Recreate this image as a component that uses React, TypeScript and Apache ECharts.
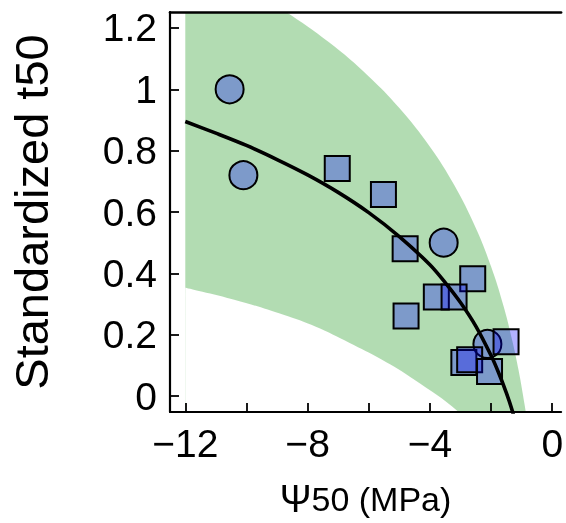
import React, { useEffect, useRef } from "react";
import * as echarts from "echarts";

// Markers
const circleX = [-10.55, -10.1, -3.55, -2.12];
const circleY = [1.0, 0.72, 0.5, 0.17];
const squareX = [-7.03, -5.52, -4.81, -2.6, -3.79, -3.21, -4.78, -1.51, -2.89, -2.7, -2.05];
const squareY = [0.742, 0.657, 0.48, 0.382, 0.323, 0.323, 0.261, 0.177, 0.109, 0.118, 0.08];

// Fitted curve
const fitX = [-12, -11, -10, -9, -8, -7, -6, -5, -4, -3.5, -3, -2.5, -2, -1.75, -1.5, -1.3, -1.2];
const fitY = [0.895, 0.857, 0.817, 0.771, 0.721, 0.664, 0.598, 0.52, 0.428, 0.37, 0.305, 0.228, 0.132, 0.075, 0.01, -0.05, -0.09];

// Green band boundaries
const upperX = [-12, -10, -8.9, -7.3, -6, -5, -4, -3.2, -2.5, -2, -1.6, -1.3, -1.1, -0.9, -0.75];
const upperY = [1.434, 1.331, 1.265, 1.153, 1.042, 0.939, 0.813, 0.687, 0.548, 0.422, 0.296, 0.178, 0.084, -0.03, -0.133];
const lowerX = [-12, -10.4, -8.79, -7.73, -6.64, -5.58, -4.52, -3.08, -2.5];
const lowerY = [0.353, 0.314, 0.265, 0.226, 0.174, 0.119, 0.054, -0.05, -0.12];

const xTicks = [-12, -10, -8, -6, -4, -2, 0];
const xLabels = [-12, -8, -4, 0];
const yTicks = [0, 0.2, 0.4, 0.6, 0.8, 1, 1.2];

const X_MIN = -12.5;
const X_MAX = 0.29;
const Y_MIN = -0.052;
const Y_MAX = 1.252;

const FONT = "Liberation Sans, Arial, Helvetica, sans-serif";

export default function App() {
  const ref = useRef<HTMLDivElement>(null);
  useEffect(() => {
    if (!ref.current) return;
    const chart = echarts.init(ref.current, null, { renderer: "svg" });
    const tickFont = { fontFamily: FONT, fontSize: 39, color: "#000" };
    chart.setOption({
      animation: false,
      grid: { left: 167, right: 0, top: 12, bottom: 108 },
      xAxis: [
        {
          type: "value",
          min: X_MIN,
          max: X_MAX,
          position: "bottom",
          z: 6,
          axisLine: { show: true, onZero: false, lineStyle: { color: "#000", width: 2.2 } },
          axisTick: { show: true, inside: true, length: 9, customValues: xTicks, lineStyle: { color: "#000", width: 1.8 } },
          axisLabel: {
            show: true,
            customValues: xLabels,
            margin: 12,
            ...tickFont,
            formatter: (v: number) => (v < 0 ? "\u2212" + Math.abs(v) : String(v)),
          },
          splitLine: { show: false },
          name: "{a|\u03A8}{b|50 (MPa)}",
          nameLocation: "middle",
          nameGap: 68,
          nameTextStyle: {
            rich: {
              a: { fontFamily: FONT, fontSize: 38, color: "#000" },
              b: { fontFamily: FONT, fontSize: 34, color: "#000" },
            },
          },
        },
        {
          type: "value",
          min: X_MIN,
          max: X_MAX,
          position: "top",
          z: 6,
          axisLine: { show: true, onZero: false, lineStyle: { color: "#000", width: 2.6 } },
          axisTick: { show: false },
          axisLabel: { show: false },
          splitLine: { show: false },
        },
      ],
      yAxis: {
        type: "value",
        min: Y_MIN,
        max: Y_MAX,
        z: 6,
        axisLine: { show: true, onZero: false, lineStyle: { color: "#000", width: 2.2 } },
        axisTick: { show: true, inside: true, length: 9, customValues: yTicks, lineStyle: { color: "#000", width: 1.8 } },
        axisLabel: {
          show: true,
          customValues: yTicks,
          margin: 13,
          ...tickFont,
          formatter: (v: number) => String(Number(v.toFixed(1))),
        },
        splitLine: { show: false },
        name: "Standardized t50",
        nameLocation: "middle",
        nameGap: 115,
        nameTextStyle: { fontFamily: FONT, fontSize: 47, color: "#000" },
      },
      series: [
        {
          type: "line",
          z: 1,
          silent: true,
          clip: true,
          showSymbol: false,
          smooth: 0.4,
          lineStyle: { width: 0, opacity: 0 },
          areaStyle: { color: "rgba(0,140,0,0.3)", origin: "start", opacity: 1 },
          data: upperX.map((x, i) => [x, upperY[i]]),
        },
        {
          type: "line",
          z: 1,
          silent: true,
          clip: true,
          showSymbol: false,
          smooth: 0.4,
          lineStyle: { width: 0, opacity: 0 },
          areaStyle: { color: "#ffffff", origin: "start", opacity: 1 },
          data: lowerX.map((x, i) => [x, lowerY[i]]),
        },
        {
          type: "scatter",
          z: 3,
          symbol: "circle",
          symbolSize: 28,
          itemStyle: { color: "rgba(0,0,255,0.3)", borderColor: "#000", borderWidth: 2, opacity: 1 },
          data: circleX.map((x, i) => [x, circleY[i]]),
        },
        {
          type: "scatter",
          z: 4,
          symbol: "rect",
          symbolSize: 25,
          itemStyle: { color: "rgba(0,0,255,0.3)", borderColor: "#000", borderWidth: 2, opacity: 1 },
          data: squareX.map((x, i) => [x, squareY[i]]),
        },
        {
          type: "line",
          z: 5,
          showSymbol: false,
          smooth: 0.3,
          clip: true,
          lineStyle: { color: "#000", width: 3.6 },
          data: fitX.map((x, i) => [x, fitY[i]]),
        },
      ],
    });
    return () => chart.dispose();
  }, []);
  return <div ref={ref} style={{ position: "fixed", left: 0, top: 0, width: 566, height: 523 }} />;
}
